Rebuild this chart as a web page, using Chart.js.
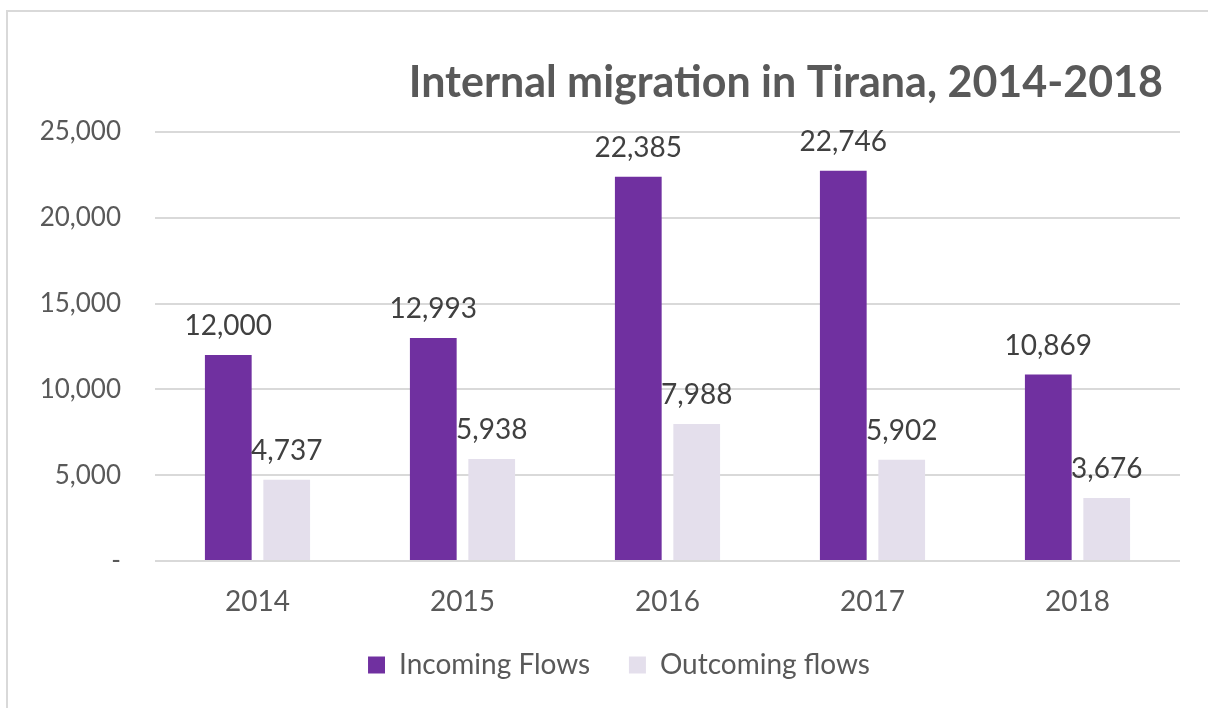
<!DOCTYPE html>
<html>
<head>
<meta charset="utf-8">
<script src="https://cdn.jsdelivr.net/npm/chart.js@4"></script>
<style>
  html, body { margin: 0; padding: 0; background: #fff; }
  .wrap { position: relative; width: 1208px; height: 708px; overflow: hidden; }
  .frame { position: absolute; left: 6px; top: 10px; width: 1400px; height: 900px;
    border-top: 2px solid #d9d9d9; border-left: 2px solid #d9d9d9; pointer-events: none; }
  canvas { position: absolute; left: 0; top: 0; }
</style>
</head>
<body>
<div class="wrap">
  <canvas id="chart" width="1208" height="708"></canvas>
  <div class="frame"></div>
</div>
<script>
const years = ['2014', '2015', '2016', '2017', '2018'];
const incoming = [12000, 12993, 22385, 22746, 10869];
const outgoing = [4737, 5938, 7988, 5902, 3676];
const yTicks = [0, 5000, 10000, 15000, 20000, 25000];
const titleText = 'Internal migration in Tirana, 2014-2018';

const FONT = 'Lato, "Open Sans", sans-serif';
const fmt = (v) => (v === 0 ? '-' : Number(v).toLocaleString('en-US'));

// value labels above every bar
const barLabels = {
  id: 'barLabels',
  afterDatasetsDraw(chart) {
    const { ctx } = chart;
    ctx.save();
    ctx.font = `28px ${FONT}`;
    ctx.fillStyle = '#404040';
    ctx.textAlign = 'center';
    ctx.textBaseline = 'bottom';
    chart.data.datasets.forEach((ds, i) => {
      chart.getDatasetMeta(i).data.forEach((bar, j) => {
        ctx.fillText(fmt(ds.data[j]), bar.x, bar.y - 15);
      });
    });
    ctx.restore();
  },
};

// title sits a little in from the plot's right edge, like the original
const offsetTitle = {
  id: 'offsetTitle',
  afterDraw(chart) {
    const { ctx, chartArea } = chart;
    ctx.save();
    ctx.font = `bold 43px ${FONT}`;
    ctx.fillStyle = '#595959';
    ctx.textAlign = 'right';
    ctx.textBaseline = 'middle';
    ctx.fillText(titleText, chartArea.right - 17, chartArea.top - 49);
    ctx.restore();
  },
};

// original legend is centred a bit right of the canvas middle
const legendShift = {
  id: 'legendShift',
  afterLayout(chart) {
    if (chart.legend) chart.legend.left += 58;
  },
};

new Chart(document.getElementById('chart'), {
  type: 'bar',
  data: {
    labels: years,
    datasets: [
      { label: 'Incoming Flows', data: incoming, backgroundColor: '#7030a0' },
      { label: 'Outcoming flows', data: outgoing, backgroundColor: '#e4dfec' },
    ],
  },
  options: {
    responsive: false,
    animation: false,
    layout: { padding: { left: 0, right: 28, top: 132, bottom: 19 } },
    datasets: { bar: { categoryPercentage: 0.57, barPercentage: 0.8 } },
    plugins: {
      title: { display: false },
      legend: {
        position: 'bottom',
        labels: {
          color: '#595959',
          font: { family: FONT, size: 28 },
          boxWidth: 17,
          boxHeight: 17,
          padding: 10,
          // extra room after the first entry
          generateLabels: (chart) => Chart.defaults.plugins.legend.labels.generateLabels(chart)
            .map((item) => (item.datasetIndex === 0 ? { ...item, text: item.text + '    ' } : item)),
        },
      },
      tooltip: { enabled: false },
    },
    scales: {
      x: {
        grid: { display: false, drawTicks: false },
        border: { display: false },
        ticks: { color: '#595959', font: { family: FONT, size: 28 }, padding: 24 },
        afterFit: (scale) => { scale.height = 80; },
      },
      y: {
        min: 0,
        max: 25000,
        afterBuildTicks: (scale) => { scale.ticks = yTicks.map((value) => ({ value })); },
        grid: { color: '#d9d9d9', lineWidth: 2, drawTicks: false },
        border: { display: false },
        ticks: {
          color: '#595959',
          font: { family: FONT, size: 26 },
          padding: 34,
          callback: (value) => fmt(value),
        },
        afterFit: (scale) => { scale.width = 155; },
      },
    },
  },
  plugins: [barLabels, offsetTitle, legendShift],
});
</script>
</body>
</html>
